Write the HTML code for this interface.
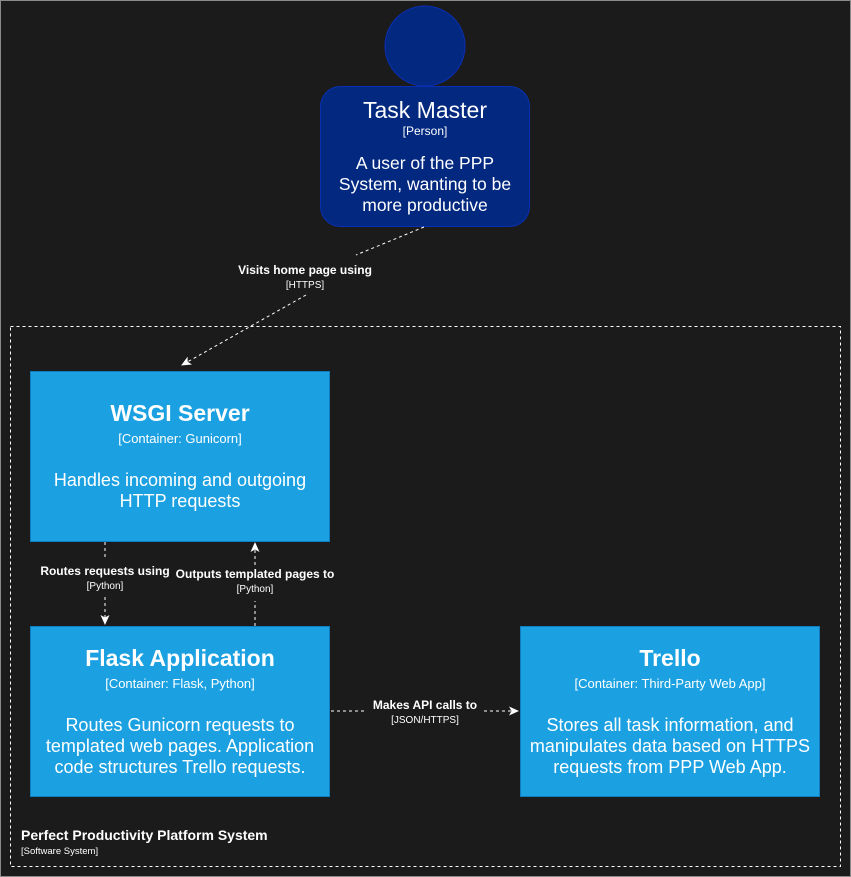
<!DOCTYPE html>
<html><head><style>
html,body{margin:0;padding:0;background:#1b1b1b;}
body{width:851px;height:877px;overflow:hidden;position:relative;font-family:"Liberation Sans",Arial,sans-serif;}
</style></head><body>
<svg width="851" height="877" viewBox="0 0 851 877" xmlns="http://www.w3.org/2000/svg" style="position:absolute;left:0;top:0">
<rect x="0.5" y="0.5" width="850" height="876" fill="#1b1b1b" stroke="#8a8a8a"/>
<defs><marker id="a" markerWidth="12" markerHeight="12" refX="9" refY="6" orient="auto" markerUnits="userSpaceOnUse"><path d="M0,1.5 L10,6 L0,10.5 L2.5,6z" fill="#fff"/></marker></defs>
<rect x="10.5" y="326.5" width="830" height="540" fill="none" stroke="#fff" stroke-dasharray="3,3"/>
<circle cx="425" cy="46" r="40" fill="#022880" stroke="#0a2fb5"/>
<rect x="320.5" y="86.5" width="209" height="140" rx="20" fill="#022880" stroke="#0a2fb5"/>
<rect x="30.5" y="371.5" width="299" height="170" fill="#1ba0e1" stroke="#0f7dbf"/>
<rect x="30.5" y="626.5" width="299" height="170" fill="#1ba0e1" stroke="#0f7dbf"/>
<rect x="520.5" y="626.5" width="299" height="170" fill="#1ba0e1" stroke="#0f7dbf"/>
<g stroke="#fff" stroke-dasharray="3,3" fill="none">
<path d="M424,227 L356,255"/>
<path d="M306,295 L182,365" marker-end="url(#a)"/>
<path d="M105,542 V560"/><path d="M105,597 V624" marker-end="url(#a)"/>
<path d="M255,626 V601"/><path d="M255,565 V543" marker-end="url(#a)"/>
<path d="M331,711 H366"/><path d="M484,711 H518" marker-end="url(#a)"/>
</g>
<g fill="#fff" text-anchor="middle">
<text x="425" y="118" font-size="23">Task Master</text>
<text x="425" y="135" font-size="12">[Person]</text>
<text x="425" y="169" font-size="17.5">A user of the PPP</text>
<text x="425" y="190" font-size="17.5">System, wanting to be</text>
<text x="425" y="211" font-size="17.5">more productive</text>
<text x="305" y="274" font-size="12" font-weight="bold">Visits home page using</text>
<text x="305" y="288" font-size="10">[HTTPS]</text>
<text x="180" y="421" font-size="23" font-weight="bold">WSGI Server</text>
<text x="180" y="443" font-size="13">[Container: Gunicorn]</text>
<text x="180" y="486" font-size="18">Handles incoming and outgoing</text>
<text x="180" y="507" font-size="18">HTTP requests</text>
<text x="105" y="575" font-size="12" font-weight="bold">Routes requests using</text>
<text x="105" y="589" font-size="10">[Python]</text>
<text x="255" y="578" font-size="12" font-weight="bold">Outputs templated pages to</text>
<text x="255" y="592" font-size="10">[Python]</text>
<text x="180" y="666" font-size="23" font-weight="bold">Flask Application</text>
<text x="180" y="688" font-size="13">[Container: Flask, Python]</text>
<text x="180" y="731" font-size="18">Routes Gunicorn requests to</text>
<text x="180" y="752" font-size="18">templated web pages. Application</text>
<text x="180" y="773" font-size="18">code structures Trello requests.</text>
<text x="670" y="666" font-size="23" font-weight="bold">Trello</text>
<text x="670" y="688" font-size="13">[Container: Third-Party Web App]</text>
<text x="670" y="731" font-size="18">Stores all task information, and</text>
<text x="670" y="752" font-size="18">manipulates data based on HTTPS</text>
<text x="670" y="773" font-size="18">requests from PPP Web App.</text>
<text x="425" y="709" font-size="12" font-weight="bold">Makes API calls to</text>
<text x="425" y="723" font-size="10">[JSON/HTTPS]</text>
</g>
<g fill="#fff">
<text x="21" y="840" font-size="14" font-weight="bold">Perfect Productivity Platform System</text>
<text x="21" y="854" font-size="9.5">[Software System]</text>
</g>
</svg>
</body></html>
